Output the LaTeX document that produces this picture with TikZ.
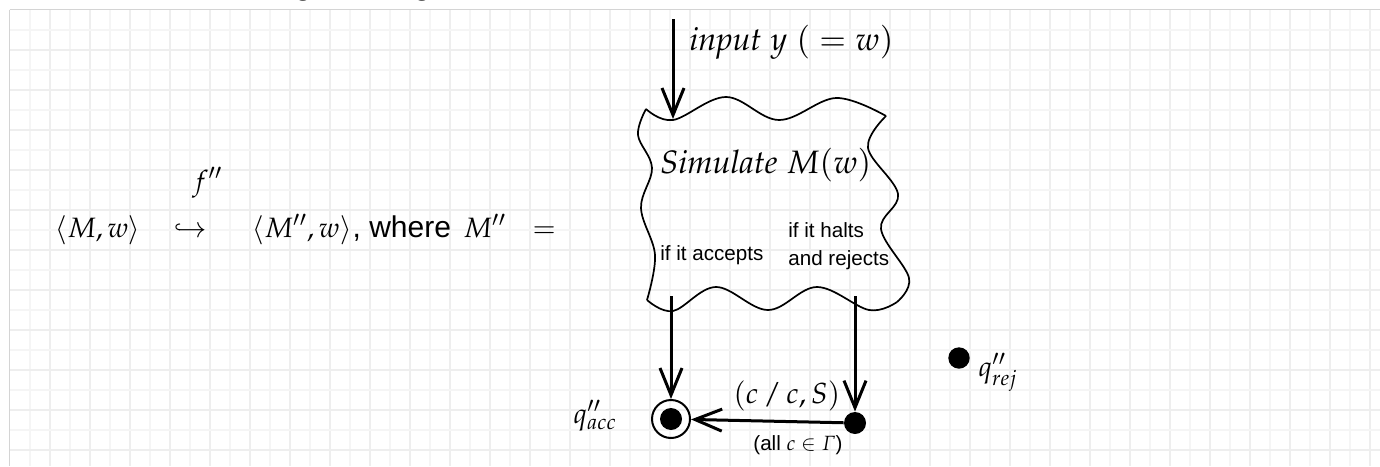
\documentclass[tikz,border=0pt]{standalone}
\usepackage[slantedGreek]{mathpazo}
\usepackage[no-math]{fontspec}
\setmainfont{Liberation Sans}
\usetikzlibrary{arrows.meta}
\definecolor{gridA}{RGB}{238,238,238}
\definecolor{gridB}{RGB}{245,245,245}
\definecolor{borderc}{RGB}{212,212,212}
\begin{document}
\begin{tikzpicture}[x=0.5pt,y=-0.5pt,
  arr/.style={line width=1.5pt,-{Straight Barb[length=13.5pt,width=11pt,line width=1.5pt]}},
  wave/.style={line width=0.85pt,line join=round},
  dotstate/.style={circle,fill=black,inner sep=0pt,minimum size=11pt},
  accstate/.style={circle,draw=black,line width=1pt,inner sep=0pt,minimum size=19pt},
  bigmath/.style={font=\fontsize{16.2}{20}\selectfont},
  midmath/.style={font=\fontsize{14}{17}\selectfont},
  sanstext/.style={font=\fontsize{15}{18}\selectfont},
  smalltext/.style={font=\fontsize{10.3}{14}\selectfont},
  every node/.style={inner sep=0pt}]
\useasboundingbox (0,0) rectangle (1380,466);
\fill[white] (0,0) rectangle (1380,466);
% grid
\foreach \x in {30,70,...,1370} \draw[gridB,line width=0.9pt] (\x,10) -- (\x,466);
\foreach \x in {50,90,...,1370} \draw[gridA,line width=0.9pt] (\x,10) -- (\x,466);
\foreach \y in {30,70,...,466} \draw[gridB,line width=0.9pt] (10,\y) -- (1380,\y);
\foreach \y in {50,90,...,466} \draw[gridA,line width=0.9pt] (10,\y) -- (1380,\y);
\draw[borderc,line width=0.6pt] (9.5,9.5) -- (1380,9.5);
\draw[borderc,line width=0.6pt] (9.5,9.5) -- (9.5,466);
% cut-off text above
\begin{scope}
\clip (0,0) rectangle (1380,8.5);
\node[anchor=base west,font=\fontsize{16}{19}\selectfont] (gA) at (294,-5) {g};
\node[anchor=base west,font=\fontsize{16}{19}\selectfont] (gB) at (413,-5) {g};
\end{scope}
% left formula
\node[anchor=base west,midmath] (mw) at (55,237) {$\langle M, w\rangle$};
\node[anchor=base west,midmath] (hook) at (173,237) {$\hookrightarrow$};
\node[anchor=base west,midmath] (fpp) at (192,190) {$f''$};
\node[anchor=base west,midmath] (mppw) at (252,237) {$\langle M'', w\rangle$};
\node[anchor=base west,sanstext] (where) at (mppw.base east) {, where};
\node[anchor=base west,midmath] (mpp) at (463,237) {$M''$};
\node[anchor=base west,midmath] (eq) at (532,237) {$=$};
% wavy box
\node[minimum width=125pt,minimum height=95pt] (sim) at (771,205) {};
\draw[wave] plot[smooth,tension=0.6] coordinates {(646,109) (673,120) (726,97) (779,120) (836,98) (886,116)};
\draw[wave] plot[smooth,tension=0.6] coordinates {(886,116) (868,148) (898,194) (881,229) (909,278) (897,302)};
\draw[wave] plot[smooth,tension=0.6] coordinates {(647,300) (673,311) (716,287) (768,310) (817,287) (869,310) (897,302)};
\draw[wave] plot[smooth,tension=0.6] coordinates {(646,109) (638,135) (652,168) (641,208) (655,255) (647,300)};
\node[anchor=base west,bigmath] (simtext) at (660,173) {$\mathit{Simulate}\;M(w)$};
\node[anchor=base west,smalltext] (acctext) at (660,260) {if it accepts};
\node[anchor=base west,smalltext,align=left] (rejtext) at (788,265) {if it halts\\and rejects};
% input arrow
\coordinate (inTop) at (673,19);
\coordinate (boxTop) at (673,119);
\draw[arr] (inTop) -- (boxTop);
\node[anchor=base west,bigmath] (inlabel) at (689,50) {$\mathit{input}\;y\;({}= w)$};
% states
\coordinate (accOut) at (671,296);
\coordinate (rejOut) at (855,296);
\node[accstate] (qacc) at (671,419) {};
\fill (qacc.center) circle (11);
\node[dotstate] (rejdot) at (855,423) {};
\node[dotstate,minimum size=10.7pt] (qrej) at (959,358) {};
\draw[arr] (accOut) -- (qacc);
\draw[arr] (rejOut) -- (rejdot);
\draw[arr] (rejdot) -- (qacc);
\node[anchor=base west,midmath] (qacclabel) at (573,423) {$q''_{acc}$};
\node[anchor=base west,midmath] (qrejlabel) at (978,376) {$q''_{rej}$};
\node[anchor=base west,font=\fontsize{14.5}{18}\selectfont] (trans) at (733,403) {$(c\,/\,c, S)$};
\node[anchor=base west,smalltext] (allc) at (753,450) {(all $c\in\Gamma$)};
\end{tikzpicture}
\end{document}
